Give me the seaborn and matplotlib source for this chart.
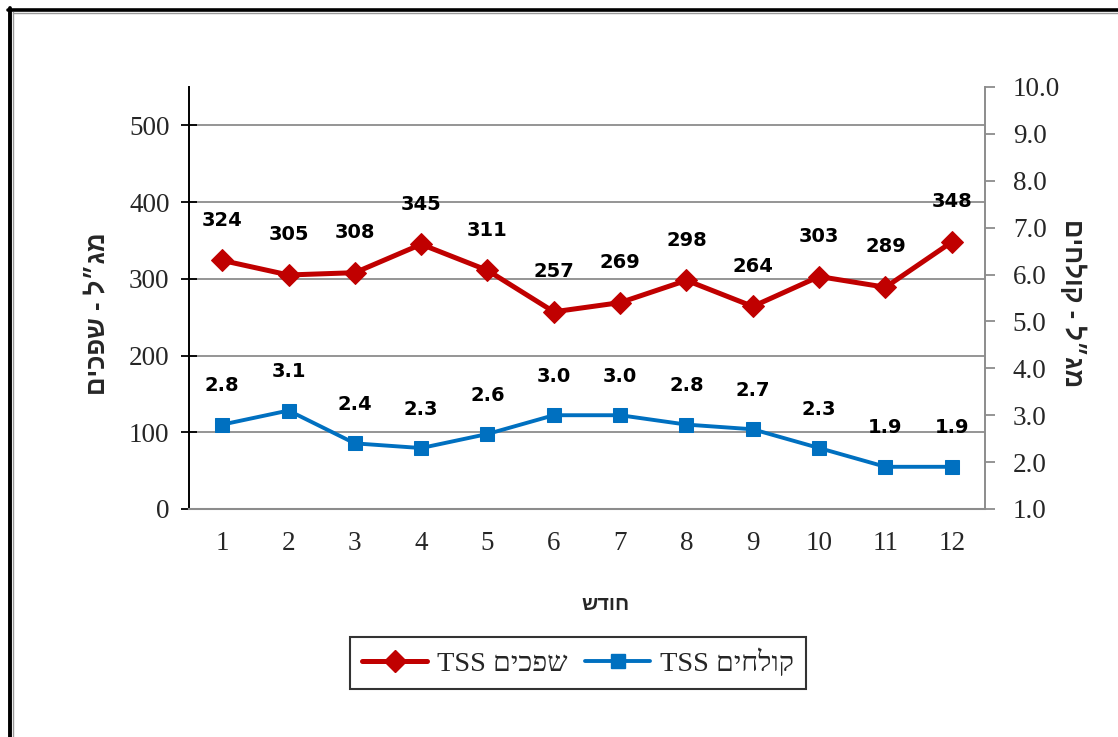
import re
import matplotlib
matplotlib.use("Agg")
import matplotlib.pyplot as plt
from matplotlib.lines import Line2D
from matplotlib.ticker import MultipleLocator, FixedLocator, FormatStrFormatter
import numpy as np
import pandas as pd
import seaborn as sns

# Monthly TSS measurements
months = [1, 2, 3, 4, 5, 6, 7, 8, 9, 10, 11, 12]
sewage_tss = [324, 305, 308, 345, 311, 257, 269, 298, 264, 303, 289, 348]      # mg/l, raw sewage
effluent_tss = [2.8, 3.1, 2.4, 2.3, 2.6, 3.0, 3.0, 2.8, 2.7, 2.3, 1.9, 1.9]    # mg/l, treated effluent

left_label = "מג״ל - שפכים"
right_label = "מג״ל - קולחים"
x_label = "חודש"
sewage_name = "שפכים TSS"
effluent_name = "קולחים TSS"

RED = "#C00000"
BLUE = "#0070C0"
GRID = "#8C8C8C"


def visual(s):
    """Lay out a right-to-left string for a left-to-right renderer."""
    r = s[::-1]
    return re.sub(r"[A-Za-z0-9.]+", lambda m: m.group(0)[::-1], r)


df = pd.DataFrame({"month": months, "sewage": sewage_tss, "effluent": effluent_tss})

sns.set_style("white")
HEB = ["Liberation Sans", "DejaVu Sans"]
SERIF = ["Liberation Serif", "DejaVu Serif"]
LABEL = ["DejaVu Sans"]

W, H = 1118, 737
fig = plt.figure(figsize=(W / 100, H / 100), dpi=100)
fig.patch.set_facecolor("white")

# outer frame (runs past the right and bottom edges)
fig.add_artist(Line2D([9.5 / W, 9.5 / W], [0, 1 - 8 / H], color="black", lw=2.8, transform=fig.transFigure))
fig.add_artist(Line2D([12.5 / W, 12.5 / W], [0, 1 - 12 / H], color="#9a9a9a", lw=1.0, transform=fig.transFigure))
fig.add_artist(Line2D([8 / W, 1], [1 - 9.5 / H, 1 - 9.5 / H], color="black", lw=2.6, transform=fig.transFigure))
fig.add_artist(Line2D([12.5 / W, 1], [1 - 12.5 / H, 1 - 12.5 / H], color="#9a9a9a", lw=1.0, transform=fig.transFigure))

x0, x1 = 189 / W, 985 / W
y0, y1 = 1 - 509 / H, 1 - 87 / H
ax = fig.add_axes([x0, y0, x1 - x0, y1 - y0])
ax2 = ax.twinx()

sns.lineplot(data=df, x="month", y="sewage", ax=ax, color=RED, lw=3.6,
             marker="D", markersize=11, markeredgecolor=RED, markerfacecolor=RED, zorder=5)
sns.lineplot(data=df, x="month", y="effluent", ax=ax2, color=BLUE, lw=2.8,
             marker="s", markersize=10, markeredgecolor=BLUE, markerfacecolor=BLUE, zorder=5)

ax.set_xlim(0.5, 12.5)
ax.set_ylim(0, 550)
ax2.set_ylim(1.0, 10.0)

# left axis
ax.yaxis.set_major_locator(FixedLocator([0, 100, 200, 300, 400, 500]))
ax.tick_params(axis="y", which="major", direction="inout", length=12, width=1.3,
               color="black", pad=8, labelsize=19.5)
for g in [100, 200, 300, 400, 500]:
    ax.axhline(g, color=GRID, lw=1.3, zorder=0)

# right axis
ax2.yaxis.set_major_locator(MultipleLocator(1.0))
ax2.yaxis.set_major_formatter(FormatStrFormatter("%.1f"))
ax2.tick_params(axis="y", which="major", direction="out", length=7, width=1.3,
                color=GRID, pad=13, labelsize=19.5)

# x axis: labels at months, tick marks between them
ax.xaxis.set_major_locator(FixedLocator(months))
ax.xaxis.set_minor_locator(FixedLocator(np.arange(0.5, 13, 1.0)))
ax.tick_params(axis="x", which="major", length=0, pad=16, labelsize=19.5)
ax.tick_params(axis="x", which="minor", direction="inout", length=11, width=1.3, color=GRID)

for a in (ax, ax2):
    for lab in a.get_xticklabels() + a.get_yticklabels():
        lab.set_family(SERIF)

ax.spines["top"].set_visible(False)
ax2.spines["top"].set_visible(False)
ax.spines["left"].set_color("black")
ax.spines["left"].set_linewidth(1.4)
ax.spines["bottom"].set_color(GRID)
ax.spines["bottom"].set_linewidth(1.5)
ax.spines["right"].set_visible(False)
ax2.spines["left"].set_visible(False)
ax2.spines["bottom"].set_visible(False)
ax2.spines["right"].set_color(GRID)
ax2.spines["right"].set_linewidth(1.4)

ax.set_xlabel("")
ax.set_ylabel("")
ax2.set_ylabel("")

# value labels
for m, v in zip(months, sewage_tss):
    ax.annotate(f"{v:d}", (m, v), xytext=(0, 29), textcoords="offset points",
                ha="center", va="center", fontsize=14, fontweight="bold",
                family=LABEL, color="black", zorder=6)
for m, v in zip(months, effluent_tss):
    ax2.annotate(f"{v:.1f}", (m, v), xytext=(0, 28), textcoords="offset points",
                 ha="center", va="center", fontsize=14, fontweight="bold",
                 family=LABEL, color="black", zorder=6)

# axis titles
fig.text(97 / W, 1 - 314 / H, visual(left_label), rotation=90, ha="center", va="center",
         fontsize=18.5, fontweight="bold", family=HEB)
fig.text(1073 / W, 1 - 303 / H, visual(right_label), rotation=-90, ha="center", va="center",
         fontsize=18.5, fontweight="bold", family=HEB)
fig.text(605 / W, 1 - 604 / H, visual(x_label), ha="center", va="center",
         fontsize=14.5, fontweight="bold", family=HEB)

# legend
handles = [
    Line2D([], [], color=RED, lw=3.6, marker="D", markersize=11, markerfacecolor=RED, markeredgecolor=RED),
    Line2D([], [], color=BLUE, lw=2.8, marker="s", markersize=10, markerfacecolor=BLUE, markeredgecolor=BLUE),
]
leg = fig.legend(handles, [visual(sewage_name), visual(effluent_name)], ncol=2,
                 loc="center", bbox_to_anchor=(578 / W, 1 - 663 / H),
                 frameon=True, fancybox=False, handlelength=2.3, handletextpad=0.35,
                 columnspacing=0.6, borderpad=0.4, borderaxespad=0,
                 prop={"family": SERIF, "size": 20.5})
leg.get_frame().set_edgecolor("black")
leg.get_frame().set_linewidth(1.5)

fig.savefig("out.png", dpi=100, facecolor="white")
